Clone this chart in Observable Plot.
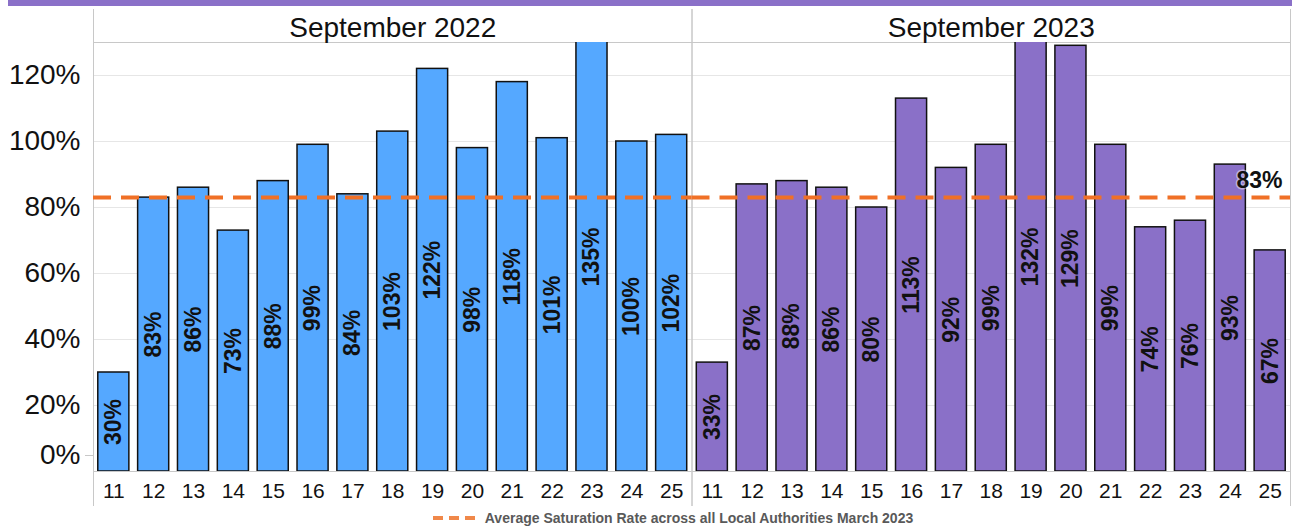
<!DOCTYPE html>
<html>
<head>
<meta charset="utf-8">
<script src="https://cdn.jsdelivr.net/npm/d3@7"></script>
<script src="https://cdn.jsdelivr.net/npm/@observablehq/plot@0.6"></script>
<style>
  body { margin: 0; background: #fff; font-family: "Liberation Sans", Arial, sans-serif; }
  #topbar { height: 6px; background: #8A70C8; margin-left: 8px; }
  #legend { height: 24px; display: flex; align-items: center; justify-content: center; gap: 8px; font-weight: bold; font-size: 14px; color: #595959; padding-left: 54px; }
</style>
</head>
<body>
<div id="topbar"></div>
<div id="chart"></div>
<div id="legend"><svg width="44" height="6"><line x1="0" y1="3" x2="44" y2="3" stroke="#F0884A" stroke-width="4" stroke-dasharray="10,6"/></svg><span>Average Saturation Rate across all Local Authorities March 2023</span></div>
<script>
const periods = ["September 2022", "September 2023"];
const groups = ["11","12","13","14","15","16","17","18","19","20","21","22","23","24","25"];
const values2022 = [30, 83, 86, 73, 88, 99, 84, 103, 122, 98, 118, 101, 135, 100, 102];
const values2023 = [33, 87, 88, 86, 80, 113, 92, 99, 132, 129, 99, 74, 76, 93, 67];
const average = 83;
const yTicks = [20, 40, 60, 80, 100, 120];
const colors = ["#55A8FF", "#8A70C8"];

const data = [];
groups.forEach((g, i) => {
  data.push({period: periods[0], group: g, value: values2022[i]});
  data.push({period: periods[1], group: g, value: values2023[i]});
});
const yMax = 130;

const chart = Plot.plot({
  width: 1292,
  height: 500,
  marginLeft: 93,
  marginRight: 2,
  marginTop: 36,
  marginBottom: 35,
  style: {fontFamily: "'Liberation Sans', Arial, sans-serif", background: "transparent"},
  fx: {domain: periods, padding: 0, label: null, round: false},
  x: {domain: groups, paddingInner: 0.22, paddingOuter: 0.12, round: false, label: null},
  y: {domain: [0, yMax], label: null},
  color: {domain: periods, range: colors},
  marks: [
    Plot.gridY(yTicks, {stroke: "#e6e6e6", strokeOpacity: 1}),
    Plot.ruleY([0], {stroke: "#c8c8c8"}),
    Plot.frame({anchor: "top", stroke: "#c8c8c8"}),
    Plot.frame({anchor: "left", stroke: "#c8c8c8", insetTop: -33, insetBottom: -34}),
    Plot.frame({anchor: "right", stroke: "#c8c8c8", insetTop: -33, insetBottom: -34}),
    Plot.barY(data, {fx: "period", x: "group", y: "value", fill: "period", stroke: "#111", strokeWidth: 1.5, clip: true}),
    Plot.ruleY([average], {stroke: "#F07026", strokeWidth: 4, strokeDasharray: "18,10"}),
    Plot.text(data, {fx: "period", x: "group", y: d => Math.min(d.value, yMax) / 2, text: d => d.value + "%", rotate: -90, fontSize: 23, fontWeight: "bold", fill: "#111"}),
    Plot.text([periods[1]], {fx: d => d, frameAnchor: "right", y: [average], text: [average + "%"], dy: -17, dx: -8, textAnchor: "end", fontSize: 23, fontWeight: "bold", fill: "#111", stroke: "rgba(255,255,255,0.45)", strokeWidth: 3}),
    Plot.axisY(yTicks, {tickSize: 0, tickPadding: 13, fontSize: 28, tickFormat: d => d + "%", label: null, fill: "#111"}),
    Plot.axisY([0], {tickSize: 8, tickPadding: 5, fontSize: 28, tickFormat: d => d + "%", label: null, dy: -16, stroke: "#c8c8c8", fill: "#111"}),
    Plot.axisX({tickSize: 0, tickPadding: 12, fontSize: 21, label: null, fill: "#111"}),
    Plot.axisFx({anchor: "top", tickSize: 0, tickPadding: 6, fontSize: 28, label: null, fill: "#111"})
  ]
});
document.getElementById("chart").appendChild(chart);
</script>
</body>
</html>
